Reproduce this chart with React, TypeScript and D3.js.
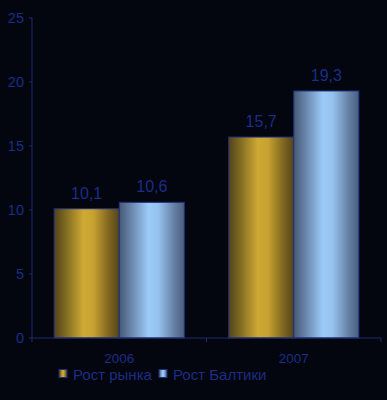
import React from "react";
import * as d3 from "d3";

const categories = ["2006", "2007"];
const seriesNames = ["Рост рынка", "Рост Балтики"];
const marketValues = [10.1, 15.7];
const balticValues = [10.6, 19.3];
const valueLabels = [["10,1", "15,7"], ["10,6", "19,3"]];
const yTicks = [0, 5, 10, 15, 20, 25];

const W = 387, H = 400;
const left = 32, right = 381, top = 18, bottom = 338;
const textColor = "#1b2d85";
const axisColor = "#1e2c70";

export default function App() {
  const x0 = d3.scaleBand<string>().domain(categories).range([left, right]).paddingInner(0).paddingOuter(0);
  const x1 = d3.scaleBand<number>().domain([0, 1]).range([0, x0.bandwidth()]).paddingOuter(0.34).paddingInner(0);
  const y = d3.scaleLinear().domain([0, 25]).range([bottom, top]);
  const series = [marketValues, balticValues];
  const grads = ["gGold", "gBlue"];
  const font = "'Liberation Sans', Arial, sans-serif";
  return (
    <svg width={W} height={H} style={{ display: "block", position: "absolute", left: 0, top: 0, background: "#03050f" }}>
      <defs>
        <linearGradient id="gGold" x1="0" x2="1" y1="0" y2="0">
          <stop offset="0" stopColor="#52421a" />
          <stop offset="0.2" stopColor="#857022" />
          <stop offset="0.45" stopColor="#cfa934" />
          <stop offset="0.6" stopColor="#c8a230" />
          <stop offset="0.85" stopColor="#7c6420" />
          <stop offset="1" stopColor="#554418" />
        </linearGradient>
        <linearGradient id="gBlue" x1="0" x2="1" y1="0" y2="0">
          <stop offset="0" stopColor="#445874" />
          <stop offset="0.2" stopColor="#6c8ab0" />
          <stop offset="0.45" stopColor="#9ccbf8" />
          <stop offset="0.6" stopColor="#95c2ee" />
          <stop offset="0.85" stopColor="#647ea2" />
          <stop offset="1" stopColor="#485e7e" />
        </linearGradient>
      </defs>
      <rect x={0} y={0} width={W} height={H} fill="#03050f" />
      <line x1={left} x2={left} y1={top} y2={bottom} stroke={axisColor} strokeWidth={1} />
      {yTicks.map((t) => (
        <g key={t}>
          <line x1={left - 3} x2={left} y1={y(t)} y2={y(t)} stroke={axisColor} />
          <text x={24} y={y(t)} dy="0.36em" textAnchor="end" fill={textColor} fontSize={14.5} fontFamily={font}>{t}</text>
        </g>
      ))}
      {categories.map((c, ci) => (
        <g key={c}>
          {series.map((s, si) => {
            const bx = (x0(c) as number) + (x1(si) as number);
            const bw = x1.bandwidth();
            return (
              <g key={si}>
                <rect x={bx} y={y(s[ci])} width={bw} height={bottom - y(s[ci])} fill={`url(#${grads[si]})`} stroke="#1f2f80" strokeWidth={1} />
                <text x={bx + bw / 2} y={y(s[ci]) - 10} textAnchor="middle" fill={textColor} fontSize={16} fontFamily={font}>{valueLabels[si][ci]}</text>
              </g>
            );
          })}
          <text x={(x0(c) as number) + x0.bandwidth() / 2} y={363} textAnchor="middle" fill={textColor} fontSize={13.5} fontFamily={font}>{c}</text>
        </g>
      ))}
      <line x1={left} x2={right} y1={bottom} y2={bottom} stroke={axisColor} />
      {[left, ...categories.map((c) => (x0(c) as number) + x0.bandwidth())].map((tx, i) => (
        <line key={i} x1={tx} x2={tx} y1={bottom} y2={bottom + 4} stroke={axisColor} />
      ))}
      {seriesNames.map((n, i) => {
        const lx = i === 0 ? 59 : 159;
        return (
          <g key={n}>
            <rect x={lx} y={369.5} width={8} height={8} fill={`url(#${grads[i]})`} stroke="#1f2f80" strokeWidth={1} />
            <text x={lx + 14} y={380} fill={textColor} fontSize={15} fontFamily={font}>{n}</text>
          </g>
        );
      })}
    </svg>
  );
}
